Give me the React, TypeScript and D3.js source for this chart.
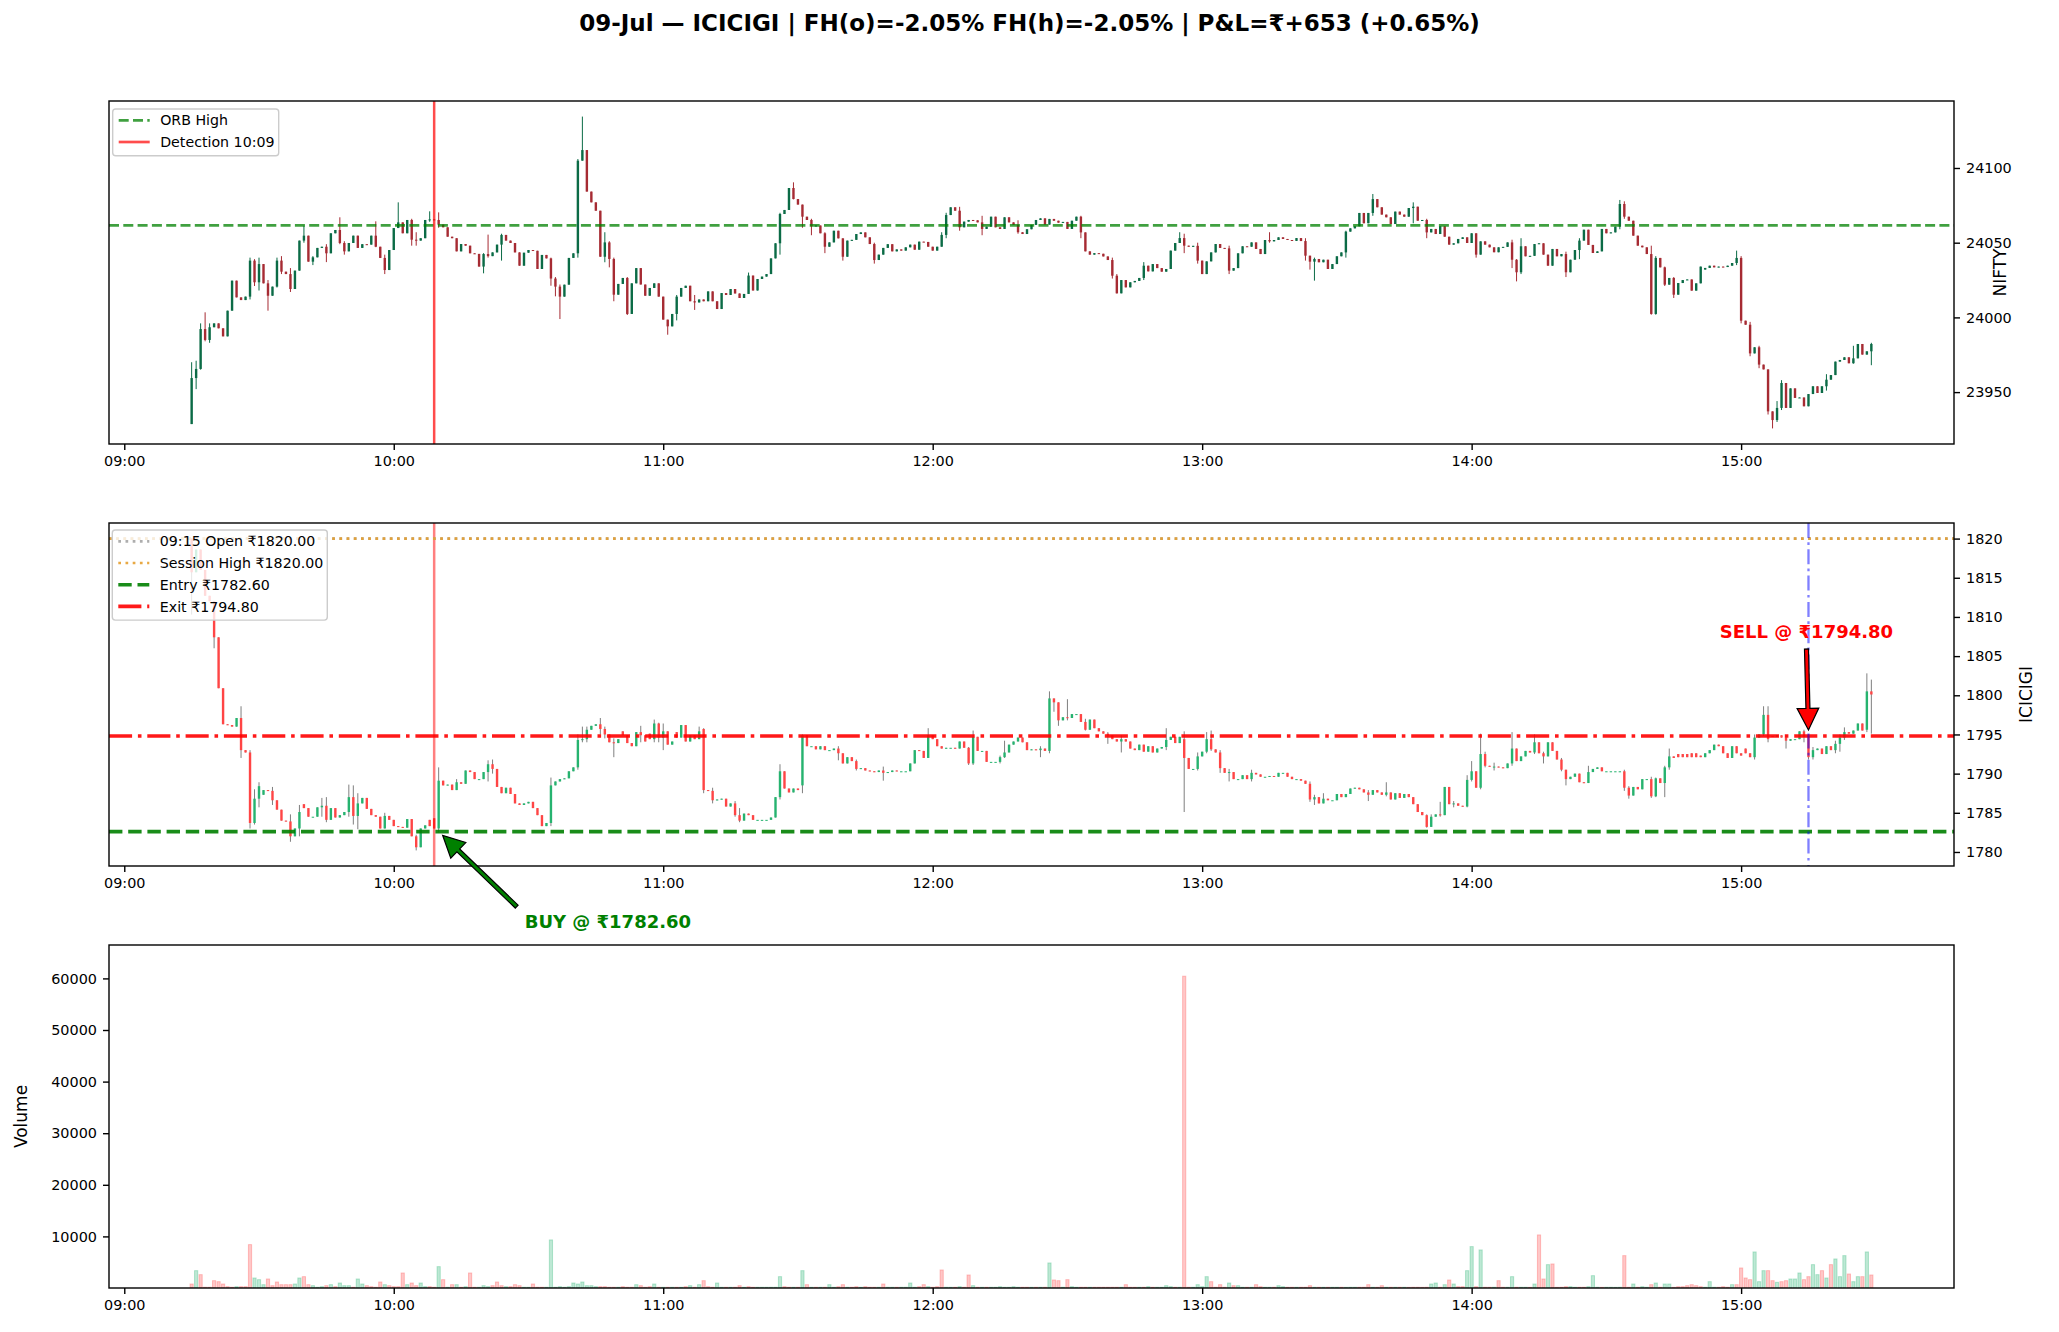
import { useEffect, useRef } from 'react'
import * as d3 from 'd3'

const W = 2059
const H = 1332
const FONT = 'DejaVu Sans, Liberation Sans, sans-serif'

const colors = {
  niftyUp: '#0b6b46',
  niftyDown: '#a62b33',
  up: '#26b36f',
  down: '#ff4545',
  wick: '#7f7f7f',
  orb: '#008000',
  detection: '#ff0000',
  open: '#9a9a9a',
  high: '#e6a030',
  entry: '#008000',
  exit: '#ff0000',
  exitTime: '#0000ff',
  frame: '#000000',
}

// ---- data (1-minute candles from 09:15, index 0 = 09:15) ----
const firstMinute = 15 // minutes past 09:00
const timeTicks = ['09:00', '10:00', '11:00', '12:00', '13:00', '14:00', '15:00']
const niftyTicks = [23950, 24000, 24050, 24100]
const iciciTicks = [1780, 1785, 1790, 1795, 1800, 1805, 1810, 1815, 1820]
const volumeTicks = [10000, 20000, 30000, 40000, 50000, 60000]

const niftyOpen0 = 23928.6
const niftyClose = [
  23959.4, 23965.5, 23992.2, 23984.9, 23993.4, 23996.0, 23992.7, 23987.3, 24004.5, 24024.6, 24013.4, 24011.6, 24013.9, 24038.0, 24023.5,
  24035.7, 24022.8, 24014.5, 24020.6, 24038.0, 24030.6, 24029.0, 24019.0, 24031.3, 24051.4, 24054.7, 24037.3, 24040.2, 24046.5, 24047.3,
  24042.9, 24056.3, 24058.5, 24049.8, 24044.2, 24049.8, 24054.7, 24046.5, 24049.0, 24048.7, 24054.7, 24047.3, 24039.8, 24031.7, 24045.1,
  24059.8, 24063.6, 24056.3, 24065.2, 24052.0, 24051.4, 24053.0, 24065.2, 24065.6, 24065.2, 24062.1, 24060.3, 24054.0, 24053.0, 24044.2,
  24049.1, 24048.0, 24042.9, 24042.5, 24034.0, 24042.4, 24041.0, 24043.5, 24048.7, 24055.2, 24051.4, 24049.8, 24043.5, 24034.6, 24043.3,
  24045.1, 24044.6, 24032.4, 24041.8, 24039.5, 24026.0, 24020.6, 24013.9, 24021.9, 24039.8, 24042.9, 24104.9, 24112.0, 24084.2, 24077.0,
  24071.4, 24040.6, 24050.2, 24039.1, 24015.2, 24022.4, 24026.4, 24002.3, 24022.8, 24033.0, 24022.0, 24014.5, 24019.7, 24022.8, 24013.9,
  23998.5, 23994.0, 24002.3, 24013.9, 24019.7, 24021.2, 24010.8, 24010.0, 24012.0, 24010.8, 24017.4, 24010.8, 24005.6, 24016.3, 24015.0,
  24019.0, 24016.0, 24013.0, 24015.7, 24028.0, 24018.0, 24025.7, 24027.3, 24029.0, 24039.5, 24049.6, 24069.2, 24071.9, 24086.6, 24079.2,
  24075.5, 24067.4, 24065.2, 24061.0, 24061.5, 24056.3, 24047.3, 24050.2, 24058.0, 24052.9, 24040.6, 24051.4, 24051.9, 24055.8, 24056.9,
  24053.6, 24049.1, 24038.4, 24042.0, 24046.5, 24049.0, 24044.2, 24045.5, 24044.7, 24046.9, 24048.7, 24045.3, 24050.7, 24050.5, 24047.3,
  24044.7, 24047.3, 24055.2, 24068.5, 24073.7, 24071.4, 24060.3, 24064.1, 24065.2, 24065.0, 24063.6, 24059.2, 24060.7, 24067.4, 24060.3,
  24059.2, 24067.0, 24063.6, 24061.9, 24057.0, 24055.8, 24059.0, 24061.9, 24065.2, 24066.3, 24062.1, 24065.9, 24064.7, 24063.4, 24063.9,
  24059.2, 24064.7, 24067.4, 24056.9, 24044.2, 24042.0, 24043.0, 24042.6, 24040.8, 24038.4, 24027.9, 24016.1, 24025.0, 24020.1, 24023.5,
  24024.4, 24026.4, 24034.6, 24030.8, 24035.7, 24033.0, 24030.6, 24032.4, 24044.7, 24049.8, 24053.1, 24048.0, 24047.3, 24047.9, 24038.0,
  24029.0, 24037.5, 24043.5, 24049.1, 24046.5, 24046.2, 24031.3, 24033.0, 24042.9, 24047.6, 24047.3, 24050.2, 24045.8, 24042.4, 24051.8,
  24050.9, 24051.8, 24053.6, 24052.5, 24051.8, 24051.2, 24053.1, 24051.1, 24041.3, 24037.3, 24039.1, 24036.9, 24038.6, 24032.4, 24035.7,
  24040.9, 24043.5, 24057.4, 24059.6, 24061.0, 24069.9, 24063.0, 24069.9, 24079.2, 24073.7, 24068.8, 24067.0, 24062.5, 24070.8, 24068.8,
  24067.4, 24073.2, 24074.1, 24064.7, 24065.2, 24056.9, 24059.2, 24055.8, 24061.0, 24054.0, 24048.7, 24049.6, 24052.5, 24053.6, 24049.8,
  24056.3, 24042.0, 24050.9, 24048.7, 24046.9, 24043.6, 24046.9, 24047.2, 24050.2, 24038.6, 24030.2, 24047.6, 24040.9, 24041.2, 24049.1,
  24049.6, 24042.0, 24034.6, 24045.8, 24040.9, 24042.4, 24030.2, 24038.6, 24045.1, 24051.4, 24058.7, 24048.5, 24043.1, 24044.2, 24059.2,
  24056.3, 24056.9, 24060.7, 24075.9, 24067.4, 24064.7, 24054.7, 24048.0, 24046.9, 24042.4, 24002.3, 24039.8, 24033.5, 24021.9, 24026.4,
  24015.2, 24023.0, 24025.0, 24025.4, 24017.9, 24022.8, 24034.0, 24033.1, 24034.6, 24033.5, 24034.0, 24033.7, 24034.6, 24036.4, 24039.8,
  23997.8, 23995.1, 23975.9, 23980.0, 23968.4, 23965.2, 23937.1, 23931.3, 23939.4, 23956.1, 23939.4, 23952.5, 23946.1, 23946.4, 23940.5,
  23948.7, 23953.9, 23949.4, 23953.9, 23958.3, 23961.4, 23970.4, 23971.5, 23973.3, 23969.3, 23972.6, 23982.2, 23975.1, 23977.3, 23982.2,
]
// [index, high, low] where the wick reaches past the body
const niftyWicks: [number, number, number][] = [
  [0, 23970, 23928.6], [1, 23971, 23952], [2, 23996, 23965], [3, 24003.4, 23984], [4, 23996, 23983],
  [13, 24040, 24012], [14, 24039, 24021], [15, 24040, 24018], [17, 24025, 24004.5], [19, 24040, 24020],
  [20, 24041, 24029], [22, 24033, 24017], [25, 24061.4, 24050], [27, 24041, 24035], [30, 24049, 24037],
  [33, 24067, 24049], [34, 24051, 24042], [41, 24064.3, 24047], [43, 24042, 24029], [46, 24077, 24062],
  [49, 24066, 24048], [50, 24057, 24048], [53, 24071, 24064], [55, 24070.3, 24060], [65, 24043, 24029.5],
  [66, 24055.4, 24040], [69, 24056, 24038], [80, 24040, 24021.2], [81, 24027, 24014.1], [82, 24022, 23998.9],
  [86, 24106, 24040], [87, 24134.4, 24105], [92, 24057, 24036.9], [93, 24051, 24033.5], [94, 24040, 24010.8],
  [97, 24027, 24001.6], [106, 23995, 23988.4], [108, 24015, 23998], [112, 24015, 24005], [124, 24030, 24017],
  [131, 24070, 24042], [134, 24090.4, 24079], [136, 24074, 24060], [138, 24066, 24055], [141, 24057, 24043],
  [145, 24053, 24038], [152, 24050, 24036], [167, 24057, 24048], [168, 24070, 24053], [171, 24074, 24058],
  [176, 24068, 24055], [184, 24065, 24056], [198, 24068, 24053], [205, 24040, 24026], [206, 24029, 24016],
  [212, 24037, 24025], [220, 24057, 24050], [221, 24056, 24043], [224, 24050, 24036], [231, 24048, 24029],
  [240, 24057, 24050], [248, 24053, 24038], [249, 24041, 24032], [250, 24040, 24024.6], [257, 24058, 24040],
  [263, 24082.6, 24068], [272, 24077, 24063], [275, 24066, 24053], [286, 24056, 24040], [294, 24052, 24033],
  [295, 24039, 24024.1], [296, 24053, 24029], [306, 24044, 24027], [309, 24053, 24039], [318, 24078.6, 24059],
  [319, 24077.7, 24066], [325, 24048, 24001.8], [326, 24041, 24001.8], [328, 24034, 24021], [330, 24027, 24013],
  [344, 24044.7, 24035], [345, 24041, 23996], [347, 23997, 23974], [349, 23981, 23966], [351, 23965, 23935],
  [352, 23937, 23925.7], [353, 23944, 23930], [354, 23958, 23938], [364, 23962, 23951], [370, 23981, 23969],
  [374, 23983, 23968],
]
const niftyOpenFix: [number, number][] = [[337, 24032.0]]

const iciciOpen0 = 1820.0
const iciciClose = [
  1815.7, 1818.6, 1816.0, 1812.7, 1812.0, 1807.4, 1800.9, 1796.3, 1796.2, 1796.0, 1797.1, 1793.0, 1792.7, 1783.7, 1786.8,
  1788.4, 1787.9, 1787.8, 1786.6, 1785.4, 1784.0, 1783.9, 1782.0, 1783.0, 1785.1, 1785.6, 1784.5, 1784.5, 1785.7, 1785.9,
  1784.1, 1785.6, 1784.4, 1784.7, 1785.1, 1787.0, 1784.6, 1786.2, 1786.9, 1785.5, 1784.7, 1784.5, 1783.0, 1784.6, 1784.1,
  1783.3, 1783.2, 1783.1, 1784.2, 1782.0, 1780.6, 1783.0, 1783.4, 1783.3, 1783.0, 1789.1, 1788.5, 1788.6, 1787.9, 1788.9,
  1788.7, 1790.4, 1790.2, 1789.3, 1789.3, 1790.2, 1791.2, 1790.6, 1788.3, 1787.5, 1788.2, 1787.4, 1786.2, 1786.0, 1786.2,
  1786.4, 1785.6, 1784.7, 1783.3, 1783.7, 1788.5, 1789.0, 1789.3, 1789.4, 1790.3, 1790.8, 1794.3, 1794.4, 1795.6, 1796.1,
  1796.3, 1795.7, 1795.0, 1794.0, 1793.9, 1794.4, 1794.9, 1793.9, 1793.5, 1795.3, 1794.9, 1794.1, 1794.4, 1796.4, 1794.6,
  1795.4, 1793.7, 1794.1, 1794.6, 1796.2, 1794.1, 1794.9, 1794.4, 1795.4, 1787.9, 1787.8, 1786.6, 1786.7, 1786.8, 1785.8,
  1786.2, 1784.7, 1784.0, 1784.9, 1784.7, 1784.1, 1784.1, 1784.1, 1784.1, 1784.4, 1787.0, 1790.3, 1788.1, 1787.6, 1788.1,
  1787.9, 1794.9, 1793.5, 1793.5, 1793.1, 1793.5, 1793.0, 1793.0, 1793.2, 1792.6, 1791.3, 1792.1, 1791.6, 1790.6, 1790.7,
  1790.4, 1790.3, 1790.2, 1790.4, 1790.1, 1790.2, 1790.4, 1790.3, 1790.3, 1790.3, 1791.3, 1793.0, 1792.9, 1792.0, 1794.9,
  1794.4, 1793.5, 1793.2, 1793.3, 1793.3, 1793.2, 1794.1, 1793.3, 1791.3, 1794.7, 1792.9, 1792.9, 1791.5, 1791.5, 1791.5,
  1792.1, 1792.7, 1793.7, 1794.1, 1794.6, 1794.0, 1793.0, 1793.1, 1793.0, 1793.2, 1792.9, 1799.6, 1799.1, 1796.8, 1797.2,
  1797.1, 1797.6, 1797.6, 1796.6, 1795.6, 1796.9, 1795.8, 1795.4, 1795.1, 1794.9, 1794.4, 1794.1, 1794.4, 1794.1, 1793.2,
  1793.0, 1793.7, 1792.8, 1793.5, 1792.7, 1793.2, 1793.4, 1794.3, 1794.7, 1793.9, 1794.7, 1792.0, 1790.6, 1790.6, 1792.2,
  1792.8, 1794.4, 1793.1, 1792.7, 1790.7, 1790.1, 1790.2, 1789.3, 1789.3, 1789.8, 1789.3, 1790.1, 1789.9, 1789.6, 1789.6,
  1789.7, 1789.6, 1790.1, 1790.1, 1789.6, 1789.3, 1789.3, 1789.1, 1788.7, 1786.7, 1787.0, 1786.2, 1786.8, 1786.6, 1786.6,
  1787.4, 1787.0, 1787.4, 1788.1, 1788.2, 1788.0, 1787.6, 1787.3, 1787.9, 1787.6, 1787.3, 1787.6, 1786.7, 1787.5, 1786.9,
  1787.4, 1787.0, 1786.1, 1785.1, 1784.7, 1783.2, 1784.5, 1784.8, 1784.7, 1788.3, 1786.1, 1786.2, 1785.9, 1785.8, 1789.2,
  1790.3, 1788.2, 1792.5, 1791.0, 1790.9, 1790.9, 1790.8, 1790.7, 1791.3, 1793.2, 1791.6, 1792.2, 1792.9, 1792.7, 1794.0,
  1792.6, 1792.2, 1794.0, 1792.9, 1791.8, 1790.5, 1789.3, 1789.6, 1790.0, 1788.9, 1788.8, 1790.2, 1790.6, 1790.8, 1790.3,
  1790.3, 1790.3, 1790.3, 1790.3, 1788.2, 1787.2, 1788.3, 1788.0, 1789.3, 1789.3, 1787.1, 1789.4, 1788.8, 1790.8, 1792.2,
  1792.0, 1792.1, 1792.1, 1792.1, 1792.1, 1792.1, 1792.1, 1792.6, 1793.0, 1793.7, 1793.5, 1792.6, 1792.0, 1793.5, 1792.6,
  1792.3, 1792.6, 1792.1, 1794.6, 1795.0, 1797.5, 1794.4, 1794.7, 1794.9, 1794.6, 1794.2, 1794.4, 1794.4, 1795.4, 1794.7,
  1792.1, 1793.0, 1793.2, 1792.5, 1793.5, 1793.0, 1793.8, 1794.6, 1795.3, 1795.1, 1795.5, 1796.4, 1795.5, 1800.5, 1800.1,
]
const iciciWicks: [number, number, number][] = [
  [0, 1820, 1810.3], [5, 1812, 1806], [11, 1798.6, 1792], [13, 1793, 1783], [14, 1788, 1783.5],
  [15, 1788.9, 1785.7], [18, 1788.3, 1786], [22, 1784.8, 1781.3], [24, 1786, 1782], [29, 1786.9, 1784.5],
  [30, 1787, 1783.8], [35, 1788.6, 1784.5], [36, 1788.5, 1783.5], [37, 1787.5, 1782.9], [43, 1785, 1783],
  [50, 1782.2, 1780.2], [55, 1790.8, 1782.5], [59, 1789.3, 1788], [66, 1791.7, 1789], [67, 1791.8, 1790],
  [80, 1789.5, 1783.3], [86, 1795, 1790.5], [87, 1796, 1794], [88, 1796, 1794], [91, 1797.1, 1795],
  [92, 1796, 1794.5], [94, 1794.5, 1792.1], [100, 1796.1, 1794], [103, 1796.9, 1794], [104, 1796.5, 1794],
  [105, 1796.4, 1793], [113, 1796, 1794.6], [114, 1795.8, 1787.5], [116, 1788.2, 1786.2], [121, 1786.5, 1784.5],
  [122, 1785.6, 1783.8], [131, 1791.2, 1786.7], [136, 1795, 1787.5], [144, 1793.5, 1791.7], [148, 1791.8, 1790.4],
  [154, 1790.9, 1789.1], [164, 1795.8, 1792.2], [173, 1793.4, 1791.1], [174, 1795.5, 1791.1], [180, 1792.3, 1791.3],
  [181, 1794.2, 1792], [189, 1793.5, 1792.1], [191, 1800.5, 1792.6], [192, 1799.6, 1797.9], [193, 1797.2, 1796.1],
  [195, 1799.5, 1796.8], [199, 1797, 1795.5], [204, 1795.3, 1793.8], [207, 1794.9, 1792.7], [217, 1795.8, 1793],
  [221, 1795.4, 1785.1], [224, 1792.7, 1790.4], [226, 1795.3, 1792.6], [227, 1795.5, 1792.9], [229, 1793, 1790.1],
  [231, 1790.6, 1789], [236, 1790.5, 1789], [249, 1789, 1786.4], [250, 1787.3, 1786], [252, 1787.5, 1786.3],
  [262, 1787.9, 1786.5], [266, 1788.9, 1787.1], [275, 1784.8, 1783.1], [276, 1784.8, 1783.2], [278, 1786.4, 1784.5],
  [281, 1786.5, 1785.7], [284, 1789.8, 1785.7], [285, 1791.6, 1789], [287, 1795.1, 1788], [288, 1792.8, 1790.8],
  [290, 1791.4, 1790.4], [294, 1795.3, 1791], [299, 1795, 1792.5], [301, 1792.8, 1791.3], [305, 1792, 1790.3],
  [306, 1790.5, 1788.5], [311, 1791, 1788.8], [319, 1790.5, 1787.8], [320, 1788.4, 1786.8], [325, 1789.6, 1786.9],
  [326, 1789.5, 1787], [328, 1791, 1787], [329, 1793.2, 1790.5], [348, 1795, 1791.8], [350, 1798.6, 1794.8],
  [351, 1798.6, 1794], [355, 1794.9, 1793.2], [359, 1795.6, 1794], [360, 1795, 1791.8], [361, 1793.4, 1791.8],
  [366, 1794.2, 1792.6], [367, 1795, 1792.8], [368, 1795.9, 1794.3], [373, 1802.8, 1795.3], [374, 1802, 1795.1],
]
// opens that gap away from the previous close
const iciciOpenFix: [number, number][] = [
  [16, 1787.3], [25, 1786.1], [53, 1784.1], [54, 1784.3], [96, 1795.4], [102, 1795.1], [108, 1795.3],
  [114, 1795.7], [136, 1788.5], [221, 1794.4], [331, 1792.5], [332, 1792.5], [333, 1792.5], [334, 1792.6],
  [335, 1792.6], [336, 1792.3], [346, 1793.2], [352, 1794.8], [360, 1794.9], [373, 1795.6],
]
const iciciVolume = [
  776, 3364, 2588, 150, 150, 1423, 1229, 776, 259, 150, 259, 259, 259, 8411, 1941,
  1618, 647, 1747, 453, 1165, 647, 647, 647, 776, 1941, 2200, 647, 453, 150, 259,
  453, 647, 259, 970, 453, 453, 150, 1747, 776, 453, 259, 150, 1165, 647, 453,
  259, 259, 2912, 647, 970, 453, 970, 259, 259, 150, 4141, 1618, 150, 647, 647,
  150, 259, 2912, 150, 150, 453, 259, 453, 1165, 453, 259, 259, 647, 453, 150,
  150, 776, 150, 150, 150, 9317, 150, 259, 150, 259, 970, 776, 1165, 453, 453,
  259, 259, 259, 150, 150, 150, 259, 150, 150, 647, 453, 150, 259, 776, 150,
  150, 150, 150, 150, 150, 259, 453, 150, 647, 1423, 259, 150, 970, 150, 150,
  150, 150, 453, 150, 259, 150, 150, 150, 150, 150, 150, 2200, 259, 150, 150,
  150, 3364, 647, 150, 150, 150, 150, 647, 150, 259, 647, 150, 150, 259, 150,
  259, 150, 150, 150, 776, 150, 150, 150, 150, 150, 970, 150, 259, 647, 259,
  150, 259, 3494, 150, 150, 150, 259, 150, 2523, 453, 150, 150, 150, 150, 150,
  259, 150, 150, 259, 150, 150, 150, 150, 150, 150, 150, 4853, 1553, 1423, 150,
  1618, 259, 150, 150, 150, 150, 150, 150, 150, 150, 150, 150, 150, 647, 150,
  150, 150, 150, 259, 150, 150, 150, 453, 259, 150, 150, 60430, 150, 150, 647,
  259, 2200, 1229, 150, 647, 150, 970, 453, 453, 150, 150, 150, 647, 259, 150,
  150, 150, 453, 259, 150, 150, 150, 150, 150, 453, 150, 150, 150, 150, 150,
  150, 150, 130, 150, 150, 150, 150, 647, 150, 150, 453, 150, 150, 150, 150,
  150, 130, 150, 150, 130, 150, 776, 970, 150, 647, 1553, 776, 259, 259, 3364,
  8023, 259, 7376, 150, 150, 150, 1423, 150, 150, 2200, 150, 150, 150, 130, 776,
  10287, 1747, 4529, 4658, 130, 150, 259, 259, 150, 150, 150, 259, 2394, 150, 130,
  150, 150, 130, 150, 6276, 150, 776, 150, 259, 150, 647, 970, 150, 776, 776,
  130, 259, 259, 453, 647, 453, 259, 150, 1229, 150, 150, 259, 150, 647, 647,
  3882, 1941, 1618, 6988, 1229, 3364, 3364, 1423, 1100, 1229, 1423, 1747, 1747, 2912, 1618,
  2200, 4529, 2588, 3364, 1941, 4529, 5629, 2200, 6276, 2717, 1229, 2200, 2200, 6988, 2523,
]

const orbHigh = 24061.6
const sessionOpen = 1820.0
const sessionHigh = 1820.0
const entryPrice = 1782.6
const exitPrice = 1794.8
const detectionMinute = 69 // 10:09
const entryMinute = 70 // 10:10
const exitMinute = 375 // 15:15

interface Candle { t: number; o: number; c: number; h: number; l: number; up: boolean }

function buildCandles(open0: number, close: number[], wicks: [number, number, number][], openFix: [number, number][]): Candle[] {
  const fix = new Map(openFix)
  const wk = new Map(wicks.map((w) => [w[0], w]))
  return close.map((c, i) => {
    const o = fix.get(i) ?? (i === 0 ? open0 : close[i - 1])
    const w = wk.get(i)
    return {
      t: firstMinute + i,
      o,
      c,
      h: Math.max(o, c, w ? w[1] : -Infinity),
      l: Math.min(o, c, w ? w[2] : Infinity),
      up: c >= o,
    }
  })
}

function arrowPoints(x1: number, y1: number, x2: number, y2: number, shaftW: number, headW: number, headL: number) {
  const len = Math.hypot(x2 - x1, y2 - y1)
  const ux = (x2 - x1) / len
  const uy = (y2 - y1) / len
  const px = -uy
  const py = ux
  const bx = x2 - ux * headL
  const by = y2 - uy * headL
  const pts = [
    [x1 + (px * shaftW) / 2, y1 + (py * shaftW) / 2],
    [bx + (px * shaftW) / 2, by + (py * shaftW) / 2],
    [bx + (px * headW) / 2, by + (py * headW) / 2],
    [x2, y2],
    [bx - (px * headW) / 2, by - (py * headW) / 2],
    [bx - (px * shaftW) / 2, by - (py * shaftW) / 2],
    [x1 - (px * shaftW) / 2, y1 - (py * shaftW) / 2],
  ]
  return pts.map((p) => p.join(',')).join(' ')
}

export default function App() {
  const ref = useRef<SVGSVGElement>(null)

  useEffect(() => {
    if (!ref.current) return
    const svg = d3.select(ref.current)
    svg.selectAll('*').remove()
    svg.append('rect').attr('width', W).attr('height', H).attr('fill', '#ffffff')

    const nifty = buildCandles(niftyOpen0, niftyClose, niftyWicks, niftyOpenFix)
    const icici = buildCandles(iciciOpen0, iciciClose, iciciWicks, iciciOpenFix)

    const left = 109
    const right = 1954
    const panelH = 343
    const tops = [101, 523, 945]
    const lastMinute = firstMinute + niftyClose.length - 1
    const pad = (lastMinute - firstMinute) * 0.0492

    const x = d3.scaleLinear().domain([firstMinute - pad, lastMinute + pad]).range([left, right])
    const hourTicks = timeTicks.map((_, i) => i * 60)

    const padded = (lo: number, hi: number) => {
      const m = (hi - lo) * 0.05
      return [lo - m, hi + m]
    }
    const yN = d3
      .scaleLinear()
      .domain(padded(d3.min(nifty, (d) => d.l)!, d3.max(nifty, (d) => d.h)!))
      .range([tops[0] + panelH, tops[0]])
    const yI = d3
      .scaleLinear()
      .domain(padded(Math.min(d3.min(icici, (d) => d.l)!, entryPrice), Math.max(d3.max(icici, (d) => d.h)!, sessionHigh)))
      .range([tops[1] + panelH, tops[1]])
    const yV = d3
      .scaleLinear()
      .domain([0, d3.max(iciciVolume)! * 1.1])
      .range([tops[2] + panelH, tops[2]])

    const panel = (id: string, top: number) => {
      svg
        .append('clipPath')
        .attr('id', id)
        .append('rect')
        .attr('x', left)
        .attr('y', top)
        .attr('width', right - left)
        .attr('height', panelH)
      return svg.append('g').attr('clip-path', `url(#${id})`)
    }

    const styleAxis = (sel: d3.Selection<SVGGElement, unknown, null, undefined>) => {
      sel.select('.domain').remove()
      sel.selectAll('line').attr('stroke', colors.frame).attr('stroke-width', 1.4)
      sel.selectAll('text').attr('font-size', 14.4).attr('font-family', FONT).attr('fill', '#000')
    }

    const frameAndX = (top: number) => {
      svg
        .append('g')
        .attr('transform', `translate(0,${top + panelH})`)
        .call(
          d3
            .axisBottom(x)
            .tickValues(hourTicks)
            .tickSize(6)
            .tickPadding(6)
            .tickFormat((_, i) => timeTicks[i])
        )
        .call(styleAxis)
      svg
        .append('rect')
        .attr('x', left)
        .attr('y', top)
        .attr('width', right - left)
        .attr('height', panelH)
        .attr('fill', 'none')
        .attr('stroke', colors.frame)
        .attr('stroke-width', 1.4)
    }

    const drawCandles = (
      g: d3.Selection<SVGGElement, unknown, null, undefined>,
      data: Candle[],
      y: d3.ScaleLinear<number, number>,
      upColor: string,
      downColor: string,
      wickColor: string | null,
      bodyW: number
    ) => {
      g.selectAll('.wick')
        .data(data)
        .join('line')
        .attr('x1', (d) => x(d.t))
        .attr('x2', (d) => x(d.t))
        .attr('y1', (d) => y(d.h))
        .attr('y2', (d) => y(d.l))
        .attr('stroke', (d) => wickColor ?? (d.up ? upColor : downColor))
        .attr('stroke-width', 1)
      g.selectAll('.body')
        .data(data)
        .join('rect')
        .attr('x', (d) => x(d.t) - bodyW / 2)
        .attr('y', (d) => y(Math.max(d.o, d.c)))
        .attr('width', bodyW)
        .attr('height', (d) => Math.max(1, y(Math.min(d.o, d.c)) - y(Math.max(d.o, d.c))))
        .attr('fill', (d) => (d.up ? upColor : downColor))
    }

    const hLine = (
      g: d3.Selection<SVGGElement, unknown, null, undefined>,
      yPos: number,
      color: string,
      width: number,
      dash: string,
      opacity: number
    ) => {
      g.append('line')
        .attr('x1', left)
        .attr('x2', right)
        .attr('y1', yPos)
        .attr('y2', yPos)
        .attr('stroke', color)
        .attr('stroke-width', width)
        .attr('stroke-dasharray', dash)
        .attr('stroke-opacity', opacity)
    }

    const vLine = (
      g: d3.Selection<SVGGElement, unknown, null, undefined>,
      xPos: number,
      top: number,
      color: string,
      width: number,
      dash: string,
      opacity: number
    ) => {
      g.append('line')
        .attr('x1', xPos)
        .attr('x2', xPos)
        .attr('y1', top)
        .attr('y2', top + panelH)
        .attr('stroke', color)
        .attr('stroke-width', width)
        .attr('stroke-dasharray', dash)
        .attr('stroke-opacity', opacity)
    }

    interface LegendItem { label: string; color: string; width: number; dash: string; opacity: number }
    const legend = (lx: number, ly: number, w: number, items: LegendItem[]) => {
      const rowH = 21.7
      const g = svg.append('g')
      g.append('rect')
        .attr('x', lx)
        .attr('y', ly)
        .attr('width', w)
        .attr('height', 3.3 + items.length * rowH)
        .attr('rx', 3)
        .attr('fill', '#ffffff')
        .attr('fill-opacity', 0.8)
        .attr('stroke', '#cccccc')
        .attr('stroke-width', 1.4)
      items.forEach((it, k) => {
        const cy = ly + 11.3 + k * rowH
        g.append('line')
          .attr('x1', lx + 6)
          .attr('x2', lx + 37)
          .attr('y1', cy)
          .attr('y2', cy)
          .attr('stroke', it.color)
          .attr('stroke-width', it.width)
          .attr('stroke-dasharray', it.dash)
          .attr('stroke-opacity', it.opacity)
        g.append('text')
          .attr('x', lx + 47.5)
          .attr('y', cy)
          .attr('dy', '0.36em')
          .attr('font-size', 14.2)
          .attr('font-family', FONT)
          .attr('fill', '#000')
          .text(it.label)
      })
    }

    // Title
    svg
      .append('text')
      .attr('x', W / 2)
      .attr('y', 31)
      .attr('text-anchor', 'middle')
      .attr('font-size', 23)
      .attr('font-weight', 'bold')
      .attr('font-family', FONT)
      .text('09-Jul — ICICIGI | FH(o)=-2.05% FH(h)=-2.05% | P&L=₹+653 (+0.65%)')

    // ---- NIFTY panel ----
    const g1 = panel('clip-nifty', tops[0])
    drawCandles(g1, nifty, yN, colors.niftyUp, colors.niftyDown, null, 2.4)
    hLine(g1, yN(orbHigh), colors.orb, 2.7, '10,4.3', 0.75)
    vLine(g1, x(detectionMinute), tops[0], colors.detection, 2.5, '', 0.7)
    frameAndX(tops[0])
    svg
      .append('g')
      .attr('transform', `translate(${right},0)`)
      .call(d3.axisRight(yN).tickValues(niftyTicks).tickSize(6).tickPadding(6).tickFormat(d3.format('d')))
      .call(styleAxis)
    svg
      .append('text')
      .attr('transform', `translate(2006,${tops[0] + panelH / 2}) rotate(-90)`)
      .attr('text-anchor', 'middle')
      .attr('font-size', 17)
      .attr('font-family', FONT)
      .text('NIFTY')
    legend(112.7, 109, 166, [
      { label: 'ORB High', color: colors.orb, width: 2.7, dash: '10,4.3', opacity: 0.75 },
      { label: 'Detection 10:09', color: colors.detection, width: 2.7, dash: '', opacity: 0.7 },
    ])

    // ---- ICICIGI panel ----
    const g2 = panel('clip-icici', tops[1])
    drawCandles(g2, icici, yI, colors.up, colors.down, colors.wick, 2.4)
    vLine(g2, x(detectionMinute), tops[1], colors.detection, 2.5, '', 0.5)
    hLine(g2, yI(sessionOpen), colors.open, 2.7, '2.7,4.5', 0.8)
    hLine(g2, yI(sessionHigh), colors.high, 2.7, '2.7,4.5', 0.9)
    hLine(g2, yI(entryPrice), colors.entry, 3.6, '13.4,5.8', 0.9)
    hLine(g2, yI(exitPrice), colors.exit, 3.6, '23.1,5.8,3.6,5.8', 0.9)
    vLine(g2, x(exitMinute), tops[1], colors.exitTime, 2.3, '15,4.3,2.7,4.3', 0.5)
    frameAndX(tops[1])
    svg
      .append('g')
      .attr('transform', `translate(${right},0)`)
      .call(d3.axisRight(yI).tickValues(iciciTicks).tickSize(6).tickPadding(6).tickFormat(d3.format('d')))
      .call(styleAxis)
    svg
      .append('text')
      .attr('transform', `translate(2032,${tops[1] + panelH / 2}) rotate(-90)`)
      .attr('text-anchor', 'middle')
      .attr('font-size', 17)
      .attr('font-family', FONT)
      .text('ICICIGI')
    legend(112.3, 530, 215, [
      { label: '09:15 Open ₹1820.00', color: colors.open, width: 2.7, dash: '2.7,4.5', opacity: 0.8 },
      { label: 'Session High ₹1820.00', color: colors.high, width: 2.7, dash: '2.7,4.5', opacity: 0.9 },
      { label: 'Entry ₹1782.60', color: colors.entry, width: 3.6, dash: '13.4,5.8', opacity: 0.9 },
      { label: 'Exit ₹1794.80', color: colors.exit, width: 3.6, dash: '23.1,5.8,3.6,5.8', opacity: 0.9 },
    ])

    // Annotations
    const bx = x(entryMinute)
    const by = yI(entryPrice)
    svg
      .append('polygon')
      .attr('points', arrowPoints(bx + 78, by + 75, bx + 4, by + 3.7, 4, 21.7, 21.7))
      .attr('fill', colors.entry)
      .attr('stroke', '#000')
      .attr('stroke-width', 1.2)
    svg
      .append('text')
      .attr('x', bx + 86)
      .attr('y', by + 90)
      .attr('dy', '0.36em')
      .attr('font-size', 18)
      .attr('font-weight', 'bold')
      .attr('font-family', FONT)
      .attr('fill', colors.entry)
      .text('BUY @ ₹1782.60')

    const sx = x(exitMinute)
    const sy = yI(exitPrice)
    svg
      .append('polygon')
      .attr('points', arrowPoints(sx - 2, sy - 87, sx, sy - 6, 4, 21.7, 21.7))
      .attr('fill', colors.exit)
      .attr('stroke', '#000')
      .attr('stroke-width', 1.2)
    svg
      .append('text')
      .attr('x', sx - 2)
      .attr('y', sy - 98)
      .attr('text-anchor', 'middle')
      .attr('font-size', 18)
      .attr('font-weight', 'bold')
      .attr('font-family', FONT)
      .attr('fill', colors.exit)
      .text('SELL @ ₹1794.80')

    // ---- Volume panel ----
    const g3 = panel('clip-vol', tops[2])
    const volW = 3.2
    g3.selectAll('.vol')
      .data(iciciVolume)
      .join('rect')
      .attr('x', (_, i) => x(firstMinute + i) - volW / 2)
      .attr('y', (d) => yV(d))
      .attr('width', volW)
      .attr('height', (d) => yV(0) - yV(d))
      .attr('fill', (_, i) => (icici[i].up ? colors.up : colors.down))
      .attr('fill-opacity', 0.3)
      .attr('stroke', (_, i) => (icici[i].up ? colors.up : colors.down))
      .attr('stroke-opacity', 0.3)
      .attr('stroke-width', 1)
    frameAndX(tops[2])
    svg
      .append('g')
      .attr('transform', `translate(${left},0)`)
      .call(d3.axisLeft(yV).tickValues(volumeTicks).tickSize(6).tickPadding(6).tickFormat(d3.format('d')))
      .call(styleAxis)
    svg
      .append('text')
      .attr('transform', `translate(27,${tops[2] + panelH / 2}) rotate(-90)`)
      .attr('text-anchor', 'middle')
      .attr('font-size', 17)
      .attr('font-family', FONT)
      .text('Volume')
  }, [])

  return (
    <svg
      ref={ref}
      width={W}
      height={H}
      viewBox={`0 0 ${W} ${H}`}
      style={{ position: 'absolute', left: 0, top: 0, display: 'block' }}
    />
  )
}
